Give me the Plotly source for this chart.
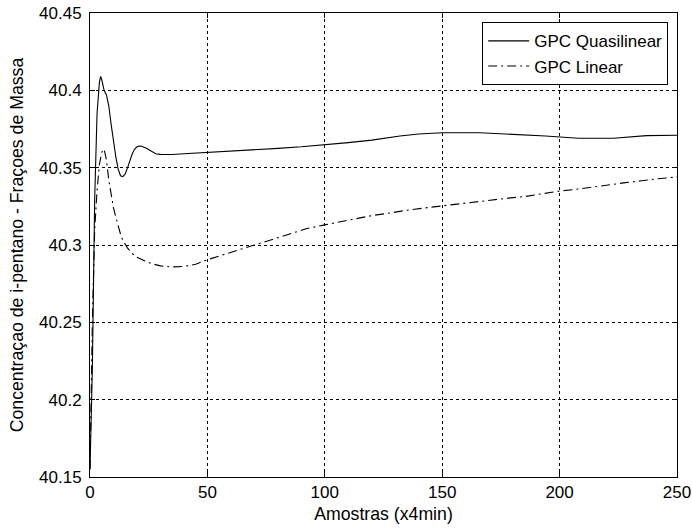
import plotly.graph_objects as go

# Samples (x4min) and concentrations
x_quasi = [0, 1, 2, 3, 4, 4.5, 5, 6, 7, 8, 9, 10, 11, 12, 13, 14, 15, 16, 17, 18, 19, 20, 21, 22, 24, 26, 28, 30,
           35, 40, 45, 50, 60, 71, 80, 90, 100, 110, 120, 132, 140, 150, 166, 180, 194, 208, 223, 237, 250]
y_quasi = [40.155, 40.22, 40.33, 40.385, 40.405, 40.409, 40.407, 40.400, 40.397, 40.390, 40.378, 40.367, 40.357,
           40.349, 40.3448, 40.3442, 40.346, 40.350, 40.355, 40.359, 40.362, 40.3635, 40.364, 40.3638, 40.3625,
           40.3605, 40.359, 40.3586, 40.3585, 40.359, 40.3594, 40.3597, 40.3605, 40.3614, 40.3625, 40.3635,
           40.3647, 40.3662, 40.3678, 40.3705, 40.3718, 40.3726, 40.3726, 40.3716, 40.3705, 40.369, 40.369,
           40.3707, 40.371]

x_linear = [0, 1, 2, 3, 4, 5, 6, 7, 8, 9, 10, 11, 12, 13, 14, 16, 18, 20, 23, 26, 30, 35, 40, 45, 50, 55, 60, 65,
            70, 78, 85, 92, 100, 107, 114, 120, 127, 135, 145, 152, 159, 165, 172, 178, 185, 192, 200, 207, 213,
            220, 228, 235, 241, 250]
y_linear = [40.155, 40.25, 40.31, 40.335, 40.352, 40.360, 40.362, 40.355, 40.342, 40.333, 40.324, 40.318, 40.312,
            40.307, 40.303, 40.298, 40.2945, 40.292, 40.290, 40.288, 40.2865, 40.2858, 40.2862, 40.2875, 40.2905,
            40.293, 40.2952, 40.2975, 40.300, 40.3037, 40.307, 40.3105, 40.313, 40.3152, 40.3173, 40.319, 40.3205,
            40.3225, 40.3244, 40.3257, 40.327, 40.3283, 40.3295, 40.3303, 40.3313, 40.333, 40.3349, 40.336,
            40.3373, 40.3387, 40.3403, 40.3415, 40.3427, 40.344]

x_ticks = [0, 50, 100, 150, 200, 250]
y_ticks = [40.15, 40.2, 40.25, 40.3, 40.35, 40.4, 40.45]
y_tick_labels = ["40.15", "40.2", "40.25", "40.3", "40.35", "40.4", "40.45"]

series_names = ["GPC Quasilinear", "GPC Linear"]
x_title = "Amostras (x4min)"
y_title = "Concentraçao de i-pentano - Fraçoes de Massa"

FONT = "Arial, Liberation Sans, sans-serif"
FS = 17
TFS = 17.7

fig = go.Figure()
fig.add_trace(go.Scatter(x=x_quasi, y=y_quasi, mode="lines", name=series_names[0],
                         line=dict(color="black", width=1.1)))
fig.add_trace(go.Scatter(x=x_linear, y=y_linear, mode="lines", name=series_names[1],
                         line=dict(color="black", width=1.1, dash="9px,4px,2px,4px")))

axis_common = dict(
    showline=True, linecolor="black", linewidth=1, mirror="allticks",
    ticks="inside", ticklen=5, tickcolor="black",
    showgrid=True, gridcolor="black", gridwidth=1, griddash="3px,3px",
    zeroline=False, automargin=False, ticklabeloverflow="allow",
    tickfont=dict(family=FONT, size=FS, color="black"),
)

fig.update_xaxes(range=[0, 250], tickvals=x_ticks, ticktext=[str(t) for t in x_ticks],
                 title=dict(text=x_title, font=dict(family=FONT, size=TFS, color="black"), standoff=6),
                 ticklabelstandoff=0, **axis_common)
fig.update_yaxes(range=[40.15, 40.45], tickvals=y_ticks, ticktext=y_tick_labels,
                 title=dict(text=y_title, font=dict(family=FONT, size=TFS, color="black"), standoff=10),
                 ticklabelstandoff=4, **axis_common)

fig.update_layout(
    width=692, height=529,
    margin=dict(l=90, r=15, t=13, b=52),
    paper_bgcolor="white", plot_bgcolor="white",
    font=dict(family=FONT, size=FS, color="black"),
    legend=dict(x=0.985, y=0.98, xanchor="right", yanchor="top",
                bgcolor="white", bordercolor="black", borderwidth=1,
                font=dict(family=FONT, size=17, color="black"),
                tracegroupgap=0, itemwidth=41),
    showlegend=True,
)

# remove the default 8px page margin so the figure fills the window like the reference
fig.write_html("out.html", config={"displayModeBar": False},
               post_script="document.body.style.margin='0px';document.body.style.overflow='hidden';")
